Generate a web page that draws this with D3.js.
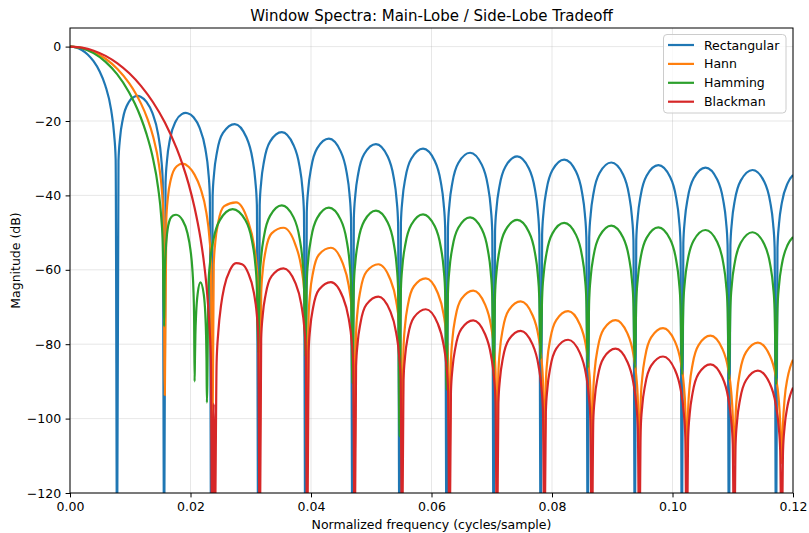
<!DOCTYPE html>
<html>
<head>
<meta charset="utf-8">
<script src="https://cdn.jsdelivr.net/npm/d3@7"></script>
<style>
  html, body { margin: 0; padding: 0; background: #ffffff; }
  svg { display: block; }
</style>
</head>
<body>
<svg id="chart" width="809" height="533"></svg>
<script>
// Magnitude responses [normalized frequency (cycles/sample), magnitude (dB)], N = 128.
// Values below the axis floor are clipped by the plot area.
const rectangular = [
  [0,0],[0.000977,-0.22],[0.001953,-0.91],[0.002930,-2.11],[0.003906,-3.92],[0.004883,-6.55],[0.005859,-10.45],[0.006836,-17.1],[0.007324,-23.6],[0.007578,-30.2],[0.0078125,-140],
  [0.008047,-30.73],[0.008301,-24.66],[0.008789,-19.31],[0.009766,-14.89],[0.010742,-13.40],[0.011172,-13.26],[0.011719,-13.47],[0.012695,-14.85],[0.013672,-17.81],[0.014648,-23.74],[0.015137,-29.88],[0.015391,-36.36],[0.015625,-140],
  [0.015859,-36.62],[0.016113,-30.42],[0.016602,-24.83],[0.017578,-20.00],[0.018555,-18.14],[0.019219,-17.83],[0.019531,-17.90],[0.020508,-19.01],[0.021484,-21.74],[0.022461,-27.46],[0.022949,-33.49],[0.023203,-39.93],[0.023438,-140],
  [0.023672,-40.18],[0.023926,-33.92],[0.024414,-28.23],[0.025391,-23.21],[0.027344,-20.82],[0.029297,-24.45],[0.030273,-30.09],[0.030762,-36.10],[0.031016,-42.52],[0.03125,-140],
  [0.031484,-42.63],[0.031738,-36.36],[0.032227,-30.63],[0.033203,-25.54],[0.035156,-23.01],[0.037109,-26.50],[0.038086,-32.07],[0.038574,-38.04],[0.038828,-44.45],[0.039063,-140],
  [0.039297,-44.54],[0.039551,-38.25],[0.040039,-32.50],[0.041016,-27.36],[0.042969,-24.75],[0.044922,-28.16],[0.045898,-33.68],[0.046387,-39.63],[0.046641,-46.02],[0.046875,-140],
  [0.047109,-46.10],[0.047363,-39.80],[0.047852,-34.04],[0.048828,-28.87],[0.050781,-26.20],[0.052734,-29.55],[0.053711,-35.04],[0.054199,-40.98],[0.054453,-47.36],[0.054688,-140],
  [0.054922,-47.42],[0.055176,-41.12],[0.055664,-35.34],[0.056641,-30.16],[0.058594,-27.44],[0.060547,-30.74],[0.061523,-36.22],[0.062012,-42.14],[0.062266,-48.52],[0.0625,-140],
  [0.062734,-48.58],[0.062988,-42.27],[0.063477,-36.49],[0.064453,-31.28],[0.066406,-28.53],[0.068359,-31.80],[0.069336,-37.25],[0.069824,-43.17],[0.070078,-49.54],[0.070313,-140],
  [0.070547,-49.60],[0.070801,-43.29],[0.071289,-37.50],[0.072266,-32.28],[0.074219,-29.50],[0.076172,-32.74],[0.077148,-38.18],[0.077637,-44.09],[0.077891,-50.46],[0.078125,-140],
  [0.078359,-50.51],[0.078613,-44.20],[0.079102,-38.40],[0.080078,-33.17],[0.082031,-30.37],[0.083984,-33.59],[0.084961,-39.02],[0.085449,-44.92],[0.085703,-51.29],[0.085938,-140],
  [0.086172,-51.33],[0.086426,-45.02],[0.086914,-39.21],[0.087891,-33.98],[0.089844,-31.16],[0.091797,-34.36],[0.092773,-39.79],[0.093262,-45.68],[0.093516,-52.05],[0.09375,-140],
  [0.093984,-52.09],[0.094238,-45.77],[0.094727,-39.96],[0.095703,-34.72],[0.097656,-31.88],[0.099609,-35.06],[0.100586,-40.48],[0.101074,-46.37],[0.101328,-52.73],[0.101563,-140],
  [0.101797,-52.78],[0.102051,-46.46],[0.102539,-40.65],[0.103516,-35.40],[0.105469,-32.55],[0.107422,-35.72],[0.108398,-41.13],[0.108887,-47.02],[0.109141,-53.38],[0.109375,-140],
  [0.109609,-53.42],[0.109863,-47.10],[0.110352,-41.28],[0.111328,-36.03],[0.113281,-33.17],[0.115234,-36.33],[0.116211,-41.74],[0.116699,-47.62],[0.116953,-53.98],[0.117188,-140],
  [0.117422,-54.02],[0.117676,-47.69],[0.118164,-41.88],[0.119141,-36.62],[0.12,-34.54]
];

const hann = [
  [0,0],[0.001969,-0.35],[0.003937,-1.42],[0.005906,-3.27],[0.007874,-6.02],[0.009843,-9.89],[0.010827,-12.39],[0.011811,-15.40],[0.012795,-19.15],[0.013780,-24.10],[0.014764,-31.80],[0.015256,-38.70],[0.015512,-45.60],[0.015740,-93.70],
  [0.015984,-46.50],[0.016240,-40.67],[0.016732,-35.75],[0.017717,-32.17],[0.018701,-31.47],[0.019685,-32.30],[0.020669,-34.42],[0.021654,-38.08],[0.022638,-44.68],[0.023130,-51.15],[0.023386,-57.79],[0.023622,-112],
  [0.023858,-58.67],[0.024114,-52.59],[0.024606,-47.23],[0.025591,-42.89],[0.027559,-41.85],[0.029528,-46.83],[0.030512,-53.15],[0.031004,-59.49],[0.031260,-66.09],[0.031496,-112],
  [0.031732,-66.41],[0.031988,-60.27],[0.032480,-54.79],[0.033465,-50.21],[0.035433,-48.70],[0.037402,-53.21],[0.038386,-59.29],[0.038878,-65.51],[0.039134,-72.05],[0.039370,-112],
  [0.039606,-72.32],[0.039862,-66.14],[0.040354,-60.59],[0.041339,-55.87],[0.043307,-54.07],[0.045276,-58.29],[0.046260,-64.23],[0.046752,-70.38],[0.047008,-76.88],[0.047244,-112],
  [0.047480,-77.13],[0.047736,-70.92],[0.048228,-65.32],[0.049213,-60.50],[0.051181,-58.51],[0.053150,-62.54],[0.054134,-68.38],[0.054626,-74.48],[0.054882,-80.95],[0.055118,-112],
  [0.055354,-81.17],[0.055610,-74.94],[0.056102,-69.31],[0.057087,-64.42],[0.059055,-62.29],[0.061024,-66.18],[0.062008,-71.95],[0.062500,-78.02],[0.062756,-84.47],[0.062992,-112],
  [0.063228,-84.67],[0.063484,-78.43],[0.063976,-72.77],[0.064961,-67.83],[0.066929,-65.59],[0.068898,-69.37],[0.069882,-75.09],[0.070374,-81.13],[0.070630,-87.57],[0.070866,-112],
  [0.071102,-87.74],[0.071358,-81.49],[0.071850,-75.81],[0.072835,-70.83],[0.074803,-68.51],[0.076772,-72.21],[0.077756,-77.89],[0.078248,-83.91],[0.078504,-90.34],[0.078740,-112],
  [0.078976,-90.48],[0.079232,-84.23],[0.079724,-78.53],[0.080709,-73.51],[0.082677,-71.13],[0.084646,-74.77],[0.085630,-80.41],[0.086122,-86.41],[0.086378,-92.84],[0.086614,-112],
  [0.086850,-92.98],[0.087106,-86.71],[0.087598,-81.00],[0.088583,-75.96],[0.090551,-73.52],[0.092520,-77.10],[0.093504,-82.72],[0.093996,-88.71],[0.094252,-95.12],[0.094488,-112],
  [0.094724,-95.25],[0.094980,-88.98],[0.095472,-83.26],[0.096457,-78.19],[0.098425,-75.70],[0.100394,-79.23],[0.101378,-84.82],[0.101870,-90.80],[0.102126,-97.21],[0.102362,-112],
  [0.102598,-97.33],[0.102854,-91.05],[0.103346,-85.32],[0.104331,-80.23],[0.106299,-77.71],[0.108268,-81.21],[0.109252,-86.78],[0.109744,-92.75],[0.110000,-99.15],[0.110236,-112],
  [0.110472,-99.26],[0.110728,-92.98],[0.111220,-87.24],[0.112205,-82.14],[0.114173,-79.58],[0.116142,-83.04],[0.117126,-88.60],[0.117618,-94.56],[0.117874,-100.96],[0.118110,-112],
  [0.118346,-101.07],[0.118602,-94.78],[0.119094,-89.04],[0.119527,-86.21],[0.12,-84.15]
];

const hamming = [
  [0,0],[0.001953,-0.43],[0.003906,-1.75],[0.005859,-4.03],[0.007813,-7.41],[0.009766,-12.18],[0.010742,-15.25],[0.011719,-18.93],[0.012695,-23.46],[0.013672,-29.35],[0.014648,-38.15],[0.015137,-45.70],[0.015391,-53.00],[0.015625,-75.20],
  [0.015720,-62.0],[0.015860,-55.7],[0.016110,-50.3],[0.016600,-46.4],[0.017100,-45.4],[0.017600,-45.2],[0.018700,-46.7],[0.019500,-50.2],[0.020000,-54.7],[0.020300,-59.6],[0.020500,-66.0],[0.020600,-73.0],[0.020680,-90.0],
  [0.020740,-84.0],[0.020810,-77.6],[0.020940,-71.7],[0.021190,-66.4],[0.021650,-63.4],[0.022200,-66.6],[0.022460,-72.0],[0.022590,-78.0],[0.022660,-84.5],[0.022720,-95.7],
  [0.022980,-64.2],[0.023250,-57.9],[0.023790,-52.0],[0.024850,-46.7],[0.027000,-43.7],[0.029120,-46.7],[0.030180,-52.0],[0.030720,-57.9],[0.031000,-64.2],[0.031250,-82.3],
  [0.031484,-62.85],[0.031738,-56.54],[0.032227,-50.74],[0.033203,-45.51],[0.035156,-42.70],[0.037109,-45.91],[0.038086,-51.34],[0.038574,-57.24],[0.038828,-63.61],[0.039063,-83.3],
  [0.039297,-63.45],[0.039551,-57.14],[0.040039,-51.34],[0.041016,-46.11],[0.042969,-43.30],[0.044922,-46.51],[0.045898,-51.94],[0.046387,-57.84],[0.046641,-64.21],[0.046875,-90.5],
  [0.047109,-64.25],[0.047363,-57.94],[0.047852,-52.14],[0.048828,-46.91],[0.050781,-44.10],[0.052734,-47.31],[0.053711,-52.74],[0.054199,-58.64],[0.054453,-65.01],[0.054688,-104.8],
  [0.054922,-65.25],[0.055176,-58.94],[0.055664,-53.14],[0.056641,-47.91],[0.058594,-45.10],[0.060547,-48.31],[0.061523,-53.74],[0.062012,-59.64],[0.062266,-66.01],[0.0625,-92.2],
  [0.062734,-66.05],[0.062988,-59.74],[0.063477,-53.94],[0.064453,-48.71],[0.066406,-45.90],[0.068359,-49.11],[0.069336,-54.54],[0.069824,-60.44],[0.070078,-66.81],[0.070313,-88.7],
  [0.070547,-66.75],[0.070801,-60.44],[0.071289,-54.64],[0.072266,-49.41],[0.074219,-46.60],[0.076172,-49.81],[0.077148,-55.24],[0.077637,-61.14],[0.077891,-67.51],[0.078125,-84.0],
  [0.078359,-67.55],[0.078613,-61.24],[0.079102,-55.44],[0.080078,-50.21],[0.082031,-47.40],[0.083984,-50.61],[0.084961,-56.04],[0.085449,-61.94],[0.085703,-68.31],[0.085938,-86.4],
  [0.086172,-68.25],[0.086426,-61.94],[0.086914,-56.14],[0.087891,-50.91],[0.089844,-48.10],[0.091797,-51.31],[0.092773,-56.74],[0.093262,-62.64],[0.093516,-69.01],[0.09375,-86.4],
  [0.093984,-68.75],[0.094238,-62.44],[0.094727,-56.64],[0.095703,-51.41],[0.097656,-48.60],[0.099609,-51.81],[0.100586,-57.24],[0.101074,-63.14],[0.101328,-69.51],[0.101563,-88.2],
  [0.101797,-69.45],[0.102051,-63.14],[0.102539,-57.34],[0.103516,-52.11],[0.105469,-49.30],[0.107422,-52.51],[0.108398,-57.94],[0.108887,-63.84],[0.109141,-70.21],[0.109375,-89.6],
  [0.109609,-70.05],[0.109863,-63.74],[0.110352,-57.94],[0.111328,-52.71],[0.113281,-49.90],[0.115234,-53.11],[0.116211,-58.54],[0.116699,-64.44],[0.116953,-70.81],[0.117188,-90.9],
  [0.117422,-70.55],[0.117676,-64.24],[0.118164,-58.44],[0.119141,-53.21],[0.12,-51.2]
];

const blackman = [
  [0,0],[0.001969,-0.27],[0.003937,-1.10],[0.005906,-2.50],[0.007874,-4.51],[0.009843,-7.18],[0.011811,-10.62],[0.013780,-14.96],[0.015748,-20.40],[0.017717,-27.45],[0.018701,-31.79],[0.019685,-36.90],[0.020669,-43.24],[0.021654,-51.50],[0.022146,-56.95],[0.022638,-64.05],[0.023130,-74.80],[0.023386,-84.60],[0.023622,-140],
  [0.023858,-96.0],[0.024080,-125],[0.024331,-85.1],[0.024606,-76.9],[0.025098,-69.2],[0.025591,-64.7],[0.026575,-60.0],[0.027559,-58.2],[0.028543,-58.5],[0.029528,-60.7],[0.030512,-66.1],[0.031004,-72.0],[0.031260,-78.4],[0.031496,-140],
  [0.031732,-78.44],[0.031988,-72.21],[0.032480,-66.59],[0.033465,-61.71],[0.035433,-59.60],[0.037402,-63.51],[0.038386,-69.29],[0.038878,-75.37],[0.039134,-81.82],[0.039370,-140],
  [0.039606,-81.95],[0.039862,-75.74],[0.040354,-70.14],[0.041339,-65.31],[0.043307,-63.30],[0.045276,-67.31],[0.046260,-73.14],[0.046752,-79.24],[0.047008,-85.71],[0.047244,-140],
  [0.047480,-86.01],[0.047736,-79.79],[0.048228,-74.17],[0.049213,-69.30],[0.051181,-67.20],[0.053150,-71.12],[0.054134,-76.91],[0.054626,-82.99],[0.054882,-89.45],[0.055118,-140],
  [0.055354,-89.63],[0.055610,-83.39],[0.056102,-77.74],[0.057087,-72.81],[0.059055,-70.60],[0.061024,-74.41],[0.062008,-80.14],[0.062500,-86.19],[0.062756,-92.63],[0.062992,-140],
  [0.063228,-92.77],[0.063484,-86.52],[0.063976,-80.85],[0.064961,-75.88],[0.066929,-73.60],[0.068898,-77.34],[0.069882,-83.03],[0.070374,-89.06],[0.070630,-95.49],[0.070866,-140],
  [0.071102,-95.71],[0.071358,-89.45],[0.071850,-83.76],[0.072835,-78.76],[0.074803,-76.40],[0.076772,-80.06],[0.077756,-85.72],[0.078248,-91.73],[0.078504,-98.15],[0.078740,-140],
  [0.078976,-98.20],[0.079232,-91.94],[0.079724,-86.24],[0.080709,-81.21],[0.082677,-78.80],[0.084646,-82.41],[0.085630,-88.04],[0.086122,-94.04],[0.086378,-100.46],[0.086614,-140],
  [0.086850,-100.67],[0.087106,-94.41],[0.087598,-88.70],[0.088583,-83.65],[0.090551,-81.20],[0.092520,-84.77],[0.093504,-90.38],[0.093996,-96.37],[0.094252,-102.79],[0.094488,-140],
  [0.094724,-102.84],[0.094980,-96.57],[0.095472,-90.85],[0.096457,-85.78],[0.098425,-83.30],[0.100394,-86.84],[0.101378,-92.43],[0.101870,-98.41],[0.102126,-104.82],[0.102362,-140],
  [0.102598,-105.04],[0.102854,-98.76],[0.103346,-93.03],[0.104331,-87.93],[0.106299,-85.40],[0.108268,-88.89],[0.109252,-94.45],[0.109744,-100.42],[0.110000,-106.82],[0.110236,-140],
  [0.110472,-106.83],[0.110728,-100.55],[0.111220,-94.80],[0.112205,-89.68],[0.114173,-87.10],[0.116142,-90.54],[0.117126,-96.08],[0.117618,-102.03],[0.117874,-108.43],[0.118110,-140],
  [0.118346,-108.58],[0.118602,-102.29],[0.119094,-96.54],[0.119527,-93.71],[0.12,-91.67]
];

const seriesNames = ["Rectangular", "Hann", "Hamming", "Blackman"];
const seriesData = [rectangular, hann, hamming, blackman];
const seriesColors = ["#1f77b4", "#ff7f0e", "#2ca02c", "#d62728"];

const xTicks = [0, 0.02, 0.04, 0.06, 0.08, 0.10, 0.12];
const yTicks = [-120, -100, -80, -60, -40, -20, 0];
const xDomain = [0, 0.12];
const yDomain = [-120, 5];

const titleText = "Window Spectra: Main-Lobe / Side-Lobe Tradeoff";
const xLabelText = "Normalized frequency (cycles/sample)";
const yLabelText = "Magnitude (dB)";

// ---- layout ----
const FONT = "'DejaVu Sans', 'Liberation Sans', sans-serif";
const plot = { left: 70, right: 793, top: 28, bottom: 493 };
const tickLen = 4.4, tickPad = 4.4;

const svg = d3.select("#chart");
svg.append("rect").attr("width", 809).attr("height", 533).attr("fill", "#ffffff");

const x = d3.scaleLinear().domain(xDomain).range([plot.left, plot.right]);
const y = d3.scaleLinear().domain(yDomain).range([plot.bottom, plot.top]);

// grid
const grid = svg.append("g").attr("stroke", "#b0b0b0").attr("stroke-opacity", 0.3).attr("stroke-width", 1);
grid.selectAll("line.gx").data(xTicks).join("line")
  .attr("x1", d => x(d)).attr("x2", d => x(d))
  .attr("y1", plot.top).attr("y2", plot.bottom);
grid.selectAll("line.gy").data(yTicks).join("line")
  .attr("x1", plot.left).attr("x2", plot.right)
  .attr("y1", d => y(d)).attr("y2", d => y(d));

// clipped series lines
svg.append("clipPath").attr("id", "plot-clip")
  .append("rect")
  .attr("x", plot.left).attr("y", plot.top)
  .attr("width", plot.right - plot.left).attr("height", plot.bottom - plot.top);

const line = d3.line()
  .x(d => x(d[0]))
  .y(d => y(d[1]))
  .curve(d3.curveMonotoneX);

const lines = svg.append("g").attr("clip-path", "url(#plot-clip)");
seriesData.forEach((data, i) => {
  lines.append("path")
    .datum(data)
    .attr("d", line)
    .attr("fill", "none")
    .attr("stroke", seriesColors[i])
    .attr("stroke-width", 2.2)
    .attr("stroke-linejoin", "round");
});

// axes
const minusFmt = d => (d < 0 ? "\u2212" + Math.abs(d) : String(d));

const xAxis = svg.append("g")
  .attr("transform", `translate(0,${plot.bottom})`)
  .call(d3.axisBottom(x).tickValues(xTicks).tickFormat(d3.format(".2f"))
    .tickSize(tickLen).tickPadding(tickPad).tickSizeOuter(0));
const yAxis = svg.append("g")
  .attr("transform", `translate(${plot.left},0)`)
  .call(d3.axisLeft(y).tickValues(yTicks).tickFormat(minusFmt)
    .tickSize(tickLen).tickPadding(tickPad).tickSizeOuter(0));

[xAxis, yAxis].forEach(g => {
  g.attr("font-family", FONT).attr("font-size", 12.5);
  g.select(".domain").remove();
  g.selectAll(".tick line").attr("stroke", "#000").attr("stroke-width", 1);
  g.selectAll(".tick text").attr("fill", "#000");
});

// frame
svg.append("rect")
  .attr("x", plot.left).attr("y", plot.top)
  .attr("width", plot.right - plot.left).attr("height", plot.bottom - plot.top)
  .attr("fill", "none").attr("stroke", "#000").attr("stroke-width", 1);

// title and axis labels
svg.append("text")
  .attr("x", (plot.left + plot.right) / 2).attr("y", 20.7)
  .attr("text-anchor", "middle").attr("font-family", FONT).attr("font-size", 15)
  .attr("fill", "#000").text(titleText);

svg.append("text")
  .attr("x", (plot.left + plot.right) / 2).attr("y", 529)
  .attr("text-anchor", "middle").attr("font-family", FONT).attr("font-size", 12.5)
  .attr("fill", "#000").text(xLabelText);

svg.append("text")
  .attr("transform", `translate(19.5,${(plot.top + plot.bottom) / 2}) rotate(-90)`)
  .attr("text-anchor", "middle").attr("font-family", FONT).attr("font-size", 12.5)
  .attr("fill", "#000").text(yLabelText);

// legend
const legend = svg.append("g").attr("font-family", FONT).attr("font-size", 12.5);
legend.append("rect")
  .attr("x", 663.5).attr("y", 34.5).attr("width", 122.5).attr("height", 78.5)
  .attr("rx", 3.5).attr("ry", 3.5)
  .attr("fill", "#ffffff").attr("fill-opacity", 0.8)
  .attr("stroke", "#cccccc").attr("stroke-width", 1);

const rowStep = 18.9, rowTop = 45;
seriesNames.forEach((name, i) => {
  const cy = rowTop + i * rowStep;
  legend.append("line")
    .attr("x1", 668).attr("x2", 694).attr("y1", cy).attr("y2", cy)
    .attr("stroke", seriesColors[i]).attr("stroke-width", 2.2);
  legend.append("text")
    .attr("x", 704).attr("y", cy + 4.5)
    .attr("fill", "#000").text(name);
});
</script>
</body>
</html>
